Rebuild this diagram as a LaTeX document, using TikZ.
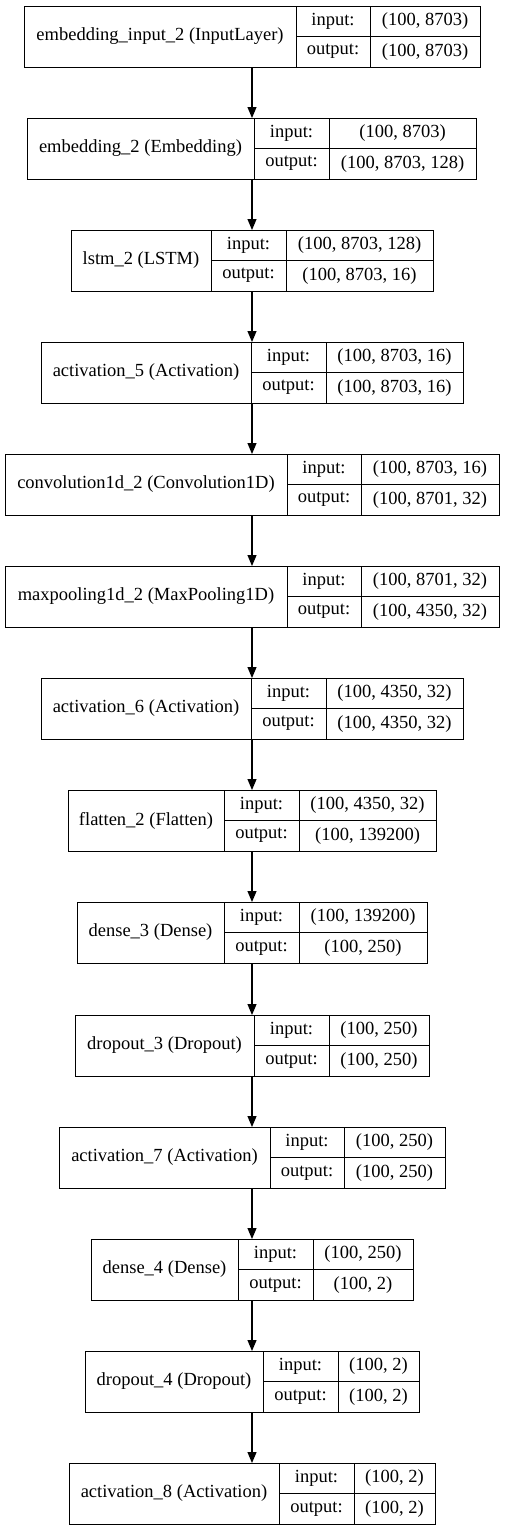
\documentclass[tikz,border=0pt]{standalone}
\usepackage{fontspec}
\setmainfont{Liberation Serif}
\usetikzlibrary{arrows.meta}

\begin{document}
\begin{tikzpicture}[x=1pt, y=-1pt,
        cell/.style={draw, line width=1pt, inner sep=0pt, outer sep=0pt, anchor=north west, font=\fontsize{18.5}{20}\selectfont},
        arr/.style={line width=1.2pt, -{Triangle[length=11pt, width=9pt]}}]
    \useasboundingbox (0,0) rectangle (504,1531);
    \coordinate (axis) at (252,0);
    \foreach \n/\y/\xa/\xb/\xc/\xd/\lname/\inp/\outp in {
        1/6/24/296/370/480/{embedding\_input\_2 (InputLayer)}/{(100, 8703)}/{(100, 8703)},
        2/118/27/254/329/476/{embedding\_2 (Embedding)}/{(100, 8703)}/{(100, 8703, 128)},
        3/230/71/211/286/433/{lstm\_2 (LSTM)}/{(100, 8703, 128)}/{(100, 8703, 16)},
        4/342/41/251/326/463/{activation\_5 (Activation)}/{(100, 8703, 16)}/{(100, 8703, 16)},
        5/454/5/287/361/499/{convolution1d\_2 (Convolution1D)}/{(100, 8703, 16)}/{(100, 8701, 32)},
        6/566/5/287/361/499/{maxpooling1d\_2 (MaxPooling1D)}/{(100, 8701, 32)}/{(100, 4350, 32)},
        7/678/41/251/326/463/{activation\_6 (Activation)}/{(100, 4350, 32)}/{(100, 4350, 32)},
        8/790/68/224/299/436/{flatten\_2 (Flatten)}/{(100, 4350, 32)}/{(100, 139200)},
        9/902/77/224/299/427/{dense\_3 (Dense)}/{(100, 139200)}/{(100, 250)},
        10/1015/75/254/329/429/{dropout\_3 (Dropout)}/{(100, 250)}/{(100, 250)},
        11/1127/59/270/344/445/{activation\_7 (Activation)}/{(100, 250)}/{(100, 250)},
        12/1239/91/238/313/413/{dense\_4 (Dense)}/{(100, 250)}/{(100, 2)},
        13/1351/85/263/338/419/{dropout\_4 (Dropout)}/{(100, 2)}/{(100, 2)},
        14/1463/69/279/354/435/{activation\_8 (Activation)}/{(100, 2)}/{(100, 2)}}
    {
        \node [cell, minimum width=\xb-\xa, minimum height=61] (L\n) at (\xa,\y) {\lname};
        \node [cell, minimum width=\xc-\xb, minimum height=30.5] (L\n in) at (\xb,\y) {input:};
        \node [cell, minimum width=\xc-\xb, minimum height=30.5] (L\n out) at (\xb,\y+30.5) {output:};
        \node [cell, minimum width=\xd-\xc, minimum height=30.5] (L\n inv) at (\xc,\y) {\inp};
        \node [cell, minimum width=\xd-\xc, minimum height=30.5] (L\n outv) at (\xc,\y+30.5) {\outp};
    }
    \foreach \n [evaluate=\n as \m using int(\n+1)] in {1,...,13}
        \draw [arr] (L\n.south -| axis) -- (L\m.north -| axis);
\end{tikzpicture}
\end{document}
